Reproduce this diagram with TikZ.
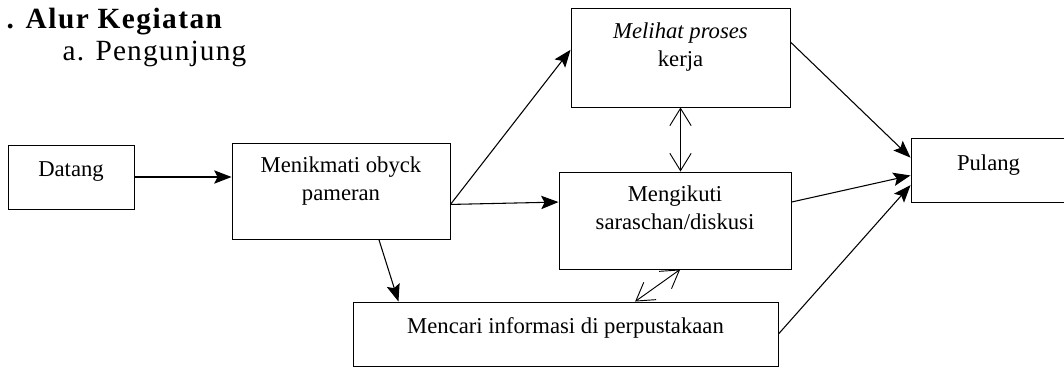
\documentclass[tikz,border=0pt]{standalone}
\usepackage{fontspec}
\setmainfont{Liberation Serif}
\usetikzlibrary{arrows.meta}

\begin{document}
\begin{tikzpicture}[x=0.75pt, y=-0.75pt,
  box/.style={draw, line width=0.7pt, inner sep=0pt},
  txt/.style={align=center, font=\fontsize{17}{21}\selectfont},
  flow/.style={-{Stealth[length=13pt,width=10pt,inset=2.5pt]}, line width=0.8pt},
  twoway/.style={{Straight Barb[length=13pt,width=16pt]}-{Straight Barb[length=13pt,width=16pt]}, line width=0.7pt}]
\useasboundingbox (0,0) rectangle (1064,367);

\node[anchor=base west, font=\bfseries\fontsize{22}{26}\selectfont\addfontfeature{LetterSpace=5}] (judul) at (2,29) {. Alur Kegiatan};
\node[anchor=base west, font=\fontsize{22}{26}\selectfont\addfontfeature{LetterSpace=4}] (sub) at (58,61) {a. Pengunjung};

\node[box, minimum width=94.5pt, minimum height=48pt,
  label={[txt,yshift=3.75pt]center:Datang}] (datang) at (71,177) {};
\node[box, minimum width=163.5pt, minimum height=72pt,
  label={[txt,yshift=7.5pt]center:{Menikmati obyck\\pameran}}] (menikmati) at (341,191) {};
\node[box, minimum width=164.25pt, minimum height=74.25pt,
  label={[txt,yshift=7.5pt]center:{\itshape Melihat proses\\kerja}}] (melihat) at (680.5,57.5) {};
\node[box, minimum width=174pt, minimum height=72.75pt,
  label={[txt,yshift=9.75pt]center:{Mengikuti\\saraschan/diskusi}}] (mengikuti) at (675,220.5) {};
\node[box, minimum width=318.75pt, minimum height=48pt,
  label={[txt,yshift=4.5pt]center:{Mencari informasi di perpustakaan}}] (mencari) at (565.5,334) {};
\node[box, minimum width=116.25pt, minimum height=48pt,
  label={[txt,yshift=3.75pt]center:Pulang}] (pulang) at (988.5,170) {};

\draw[flow] (datang) -- (datang -| menikmati.west);
\draw[flow] (menikmati.-7) -- (melihat.176);
\draw[flow] (menikmati.-7) -- (mengikuti.171);
\draw[flow] (menikmati.-52) -- (mencari.169);
\draw[twoway] (melihat.south) -- (melihat.south |- mengikuti.north);
\draw[twoway] (mengikuti.-84) -- (mencari.25);
\draw[flow] (melihat.8) -- (pulang.171);
\draw[flow] (mengikuti.9) -- (pulang.184);
\draw[flow] (mencari.east) -- (pulang.191);

\end{tikzpicture}
\end{document}
